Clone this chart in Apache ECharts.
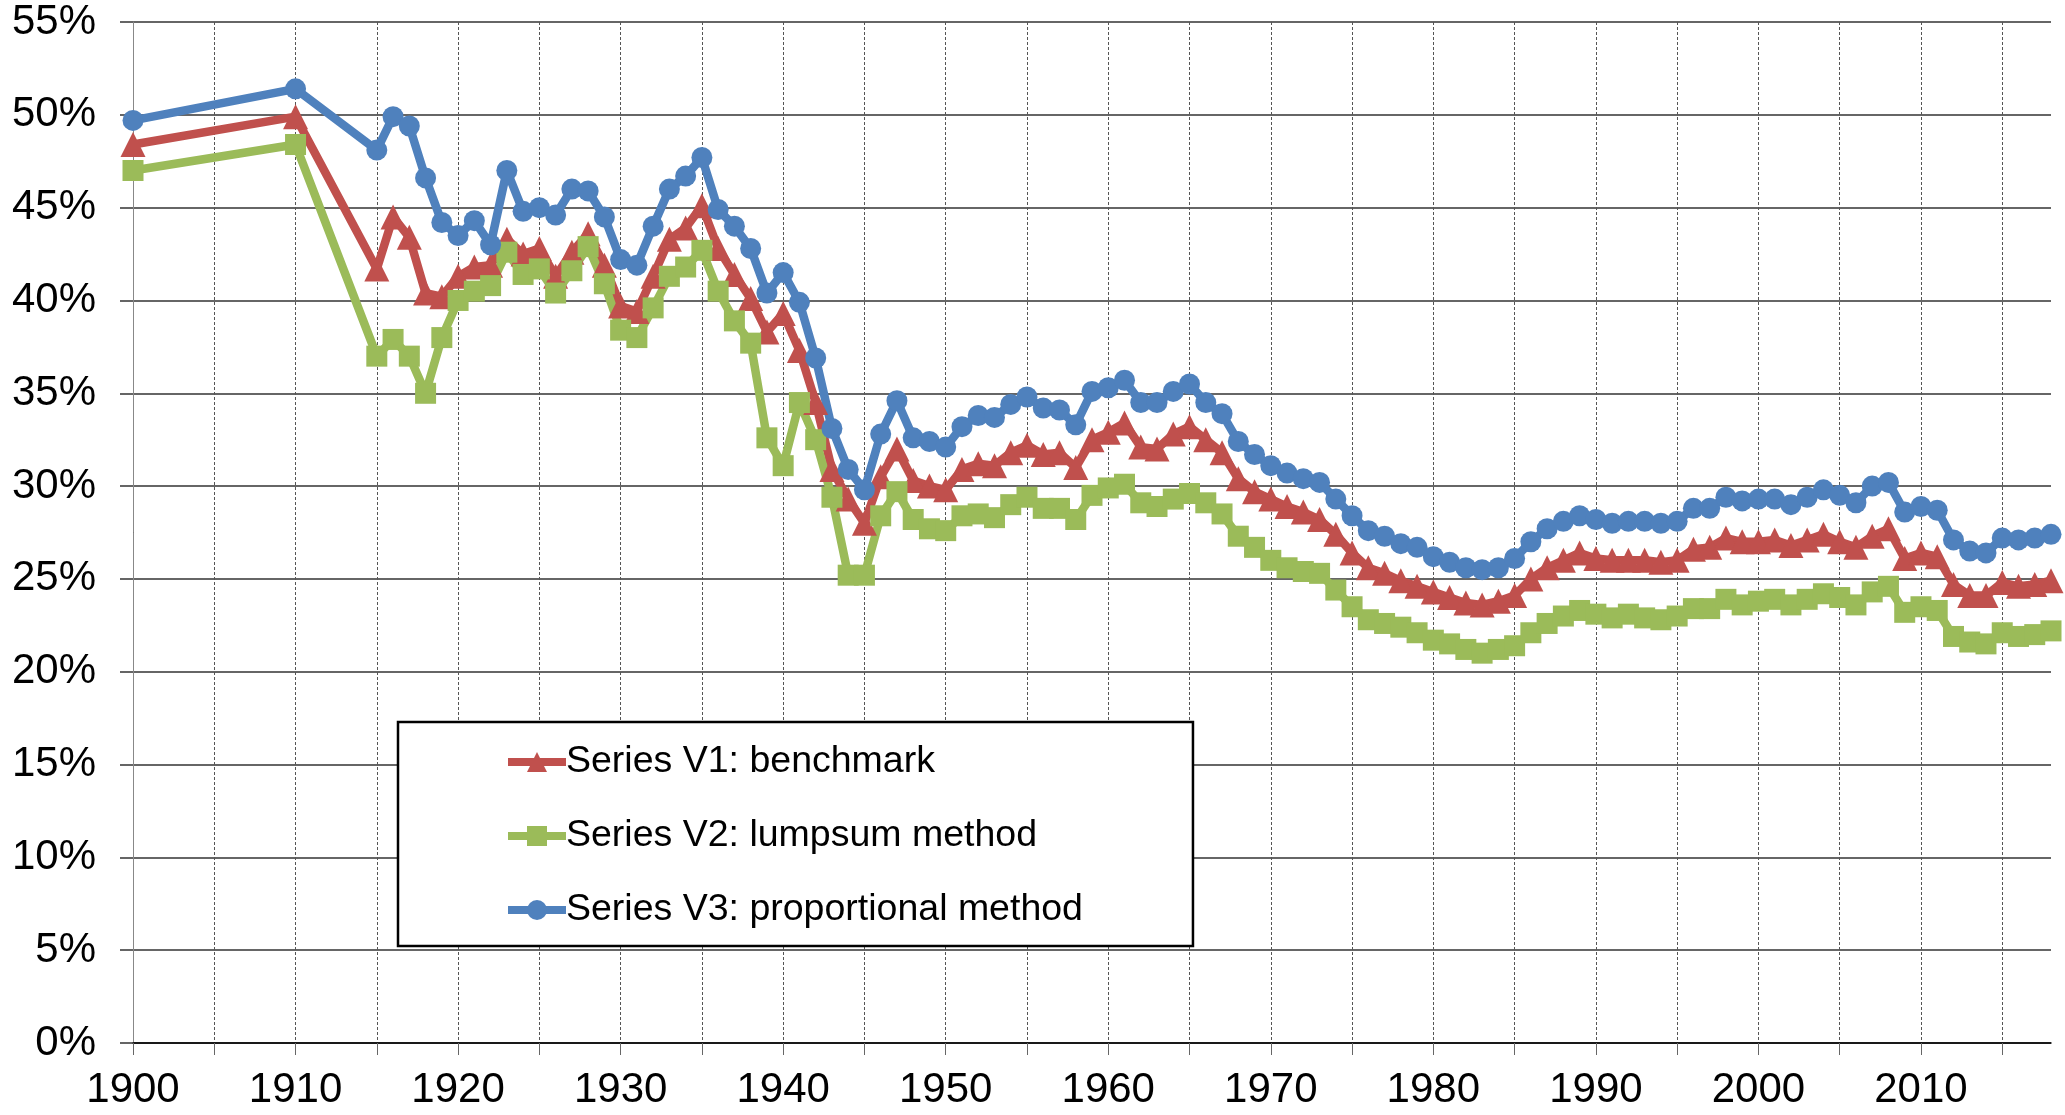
<!DOCTYPE html>
<html>
<head>
<meta charset="utf-8">
<title>Series V1-V3</title>
<script src="https://cdn.jsdelivr.net/npm/echarts@6/dist/echarts.min.js"></script>
<style>
  html, body { margin: 0; padding: 0; background: #fff; }
  #chart { width: 2065px; height: 1115px; }
</style>
</head>
<body>
<div id="chart"></div>
<script>
// years: 1900, 1910, then yearly from 1915
var years = [1900, 1910, 1915, 1916, 1917, 1918, 1919, 1920, 1921, 1922, 1923, 1924, 1925, 1926, 1927, 1928, 1929,
  1930, 1931, 1932, 1933, 1934, 1935, 1936, 1937, 1938, 1939, 1940, 1941, 1942, 1943, 1944, 1945, 1946, 1947, 1948, 1949,
  1950, 1951, 1952, 1953, 1954, 1955, 1956, 1957, 1958, 1959, 1960, 1961, 1962, 1963, 1964, 1965, 1966, 1967, 1968, 1969,
  1970, 1971, 1972, 1973, 1974, 1975, 1976, 1977, 1978, 1979, 1980, 1981, 1982, 1983, 1984, 1985, 1986, 1987, 1988, 1989,
  1990, 1991, 1992, 1993, 1994, 1995, 1996, 1997, 1998, 1999, 2000, 2001, 2002, 2003, 2004, 2005, 2006, 2007, 2008, 2009,
  2010, 2011, 2012, 2013, 2014, 2015, 2016, 2017, 2018];

var v1 = [48.4, 49.9, 41.7, 44.5, 43.4, 40.4, 40.2, 41.3, 41.8, 41.9, 43.3, 42.5, 42.8, 41.3, 42.6, 43.6, 41.9,
  39.7, 39.4, 41.3, 43.3, 43.9, 45.1, 42.8, 41.4, 40.1, 38.3, 39.3, 37.3, 34.5, 30.9, 29.3, 28.0, 30.5, 32.0, 30.3, 30.0,
  29.8, 30.9, 31.2, 31.1, 31.8, 32.2, 31.7, 31.8, 31.0, 32.5, 32.9, 33.4, 32.1, 32.0, 32.8, 33.2, 32.5, 31.8, 30.4, 29.7,
  29.3, 28.9, 28.6, 28.2, 27.4, 26.4, 25.6, 25.3, 24.9, 24.6, 24.3, 24.0, 23.7, 23.6, 23.8, 24.1, 25.0, 25.6, 26.0, 26.4,
  26.1, 26.0, 26.0, 26.0, 25.9, 26.0, 26.6, 26.7, 27.2, 27.0, 27.0, 27.1, 26.8, 27.1, 27.4, 27.0, 26.7, 27.3, 27.7, 26.1,
  26.4, 26.2, 24.7, 24.1, 24.1, 24.8, 24.6, 24.7, 24.9];

var v2 = [47.0, 48.4, 37.0, 37.9, 37.0, 35.0, 38.0, 40.0, 40.5, 40.8, 42.6, 41.4, 41.7, 40.4, 41.6, 42.9, 40.9,
  38.4, 38.0, 39.6, 41.3, 41.8, 42.7, 40.5, 38.9, 37.7, 32.6, 31.1, 34.5, 32.5, 29.4, 25.2, 25.2, 28.4, 29.7, 28.2, 27.7,
  27.6, 28.4, 28.5, 28.3, 29.0, 29.4, 28.8, 28.8, 28.2, 29.5, 29.9, 30.1, 29.1, 28.9, 29.3, 29.6, 29.1, 28.5, 27.3, 26.7,
  26.0, 25.6, 25.4, 25.3, 24.4, 23.5, 22.8, 22.6, 22.4, 22.1, 21.7, 21.5, 21.2, 21.0, 21.2, 21.4, 22.1, 22.6, 23.0, 23.3,
  23.1, 22.9, 23.1, 22.9, 22.8, 23.0, 23.4, 23.4, 23.9, 23.6, 23.8, 23.9, 23.6, 23.9, 24.2, 24.0, 23.6, 24.3, 24.6, 23.2,
  23.5, 23.3, 21.9, 21.6, 21.5, 22.1, 21.9, 22.0, 22.2];

var v3 = [49.7, 51.4, 48.1, 49.9, 49.4, 46.6, 44.2, 43.5, 44.3, 43.0, 47.0, 44.8, 45.0, 44.6, 46.0, 45.9, 44.5,
  42.2, 41.9, 44.0, 46.0, 46.7, 47.7, 44.9, 44.0, 42.8, 40.4, 41.5, 39.9, 36.9, 33.1, 30.9, 29.8, 32.8, 34.6, 32.6, 32.4,
  32.1, 33.2, 33.8, 33.7, 34.4, 34.8, 34.2, 34.1, 33.3, 35.1, 35.3, 35.7, 34.5, 34.5, 35.1, 35.5, 34.5, 33.9, 32.4, 31.7,
  31.1, 30.7, 30.4, 30.2, 29.3, 28.4, 27.6, 27.3, 26.9, 26.7, 26.2, 25.9, 25.6, 25.5, 25.6, 26.1, 27.0, 27.7, 28.1, 28.4,
  28.2, 28.0, 28.1, 28.1, 28.0, 28.1, 28.8, 28.8, 29.4, 29.2, 29.3, 29.3, 29.0, 29.4, 29.8, 29.5, 29.1, 30.0, 30.2, 28.6,
  28.9, 28.7, 27.1, 26.5, 26.4, 27.2, 27.1, 27.2, 27.4];

var names = ['Series V1: benchmark', 'Series V2: lumpsum method', 'Series V3: proportional method'];

function pairs (vals) {
  return years.map(function (y, i) { return [y, vals[i]]; });
}

var font = "'Liberation Sans', Arial, sans-serif";
var lineW = 8.5;

var chart = echarts.init(document.getElementById('chart'));
var option = {
  animation: false,
  backgroundColor: '#fff',
  grid: { left: 133, right: 14, top: 22, bottom: 72, containLabel: false },
  legend: {
    orient: 'vertical',
    left: 398,
    top: 722,
    padding: [21, 110, 17, 106],
    itemGap: 36,
    itemWidth: 58,
    itemHeight: 25,
    backgroundColor: '#fff',
    borderColor: '#000',
    borderWidth: 2.5,
    lineStyle: { width: 8 },
    textStyle: { fontFamily: font, fontSize: 37.5, color: '#000', padding: [0, 0, 0, -5] },
    data: names
  },
  xAxis: {
    type: 'value',
    min: 1900,
    max: 2018,
    interval: 5,
    axisLine: { show: true, lineStyle: { color: '#000', width: 1.5 } },
    axisTick: { show: true, length: 12, lineStyle: { color: '#666', width: 1 } },
    axisLabel: {
      fontFamily: font, fontSize: 42, color: '#000', margin: 26,
      showMaxLabel: false,
      formatter: function (v) { return v % 10 === 0 ? String(v) : ''; }
    },
    splitLine: { show: true, showMaxLine: false, lineStyle: { color: '#555', width: 1, type: [3, 2] } }
  },
  yAxis: {
    type: 'value',
    min: 0,
    max: 55,
    interval: 5,
    axisLine: { show: true, lineStyle: { color: '#888', width: 1 } },
    axisTick: { show: true, length: 13, lineStyle: { color: '#333', width: 1.5 } },
    axisLabel: { fontFamily: font, fontSize: 42, color: '#000', margin: 37, formatter: '{value}%' },
    splitLine: { show: true, lineStyle: { color: '#333', width: 1.5 } }
  },
  series: [{
    name: names[0],
    type: 'line',
    data: pairs(v1),
    symbol: 'triangle',
    symbolSize: 25,
    lineStyle: { color: '#C0504D', width: lineW },
    itemStyle: { color: '#C0504D' }
  }, {
    name: names[1],
    type: 'line',
    data: pairs(v2),
    symbol: 'rect',
    symbolSize: 21,
    lineStyle: { color: '#9BBB59', width: lineW },
    itemStyle: { color: '#9BBB59' }
  }, {
    name: names[2],
    type: 'line',
    data: pairs(v3),
    symbol: 'circle',
    symbolSize: 21,
    lineStyle: { color: '#4F81BD', width: lineW },
    itemStyle: { color: '#4F81BD' }
  }]
};
chart.setOption(option);
</script>
</body>
</html>
